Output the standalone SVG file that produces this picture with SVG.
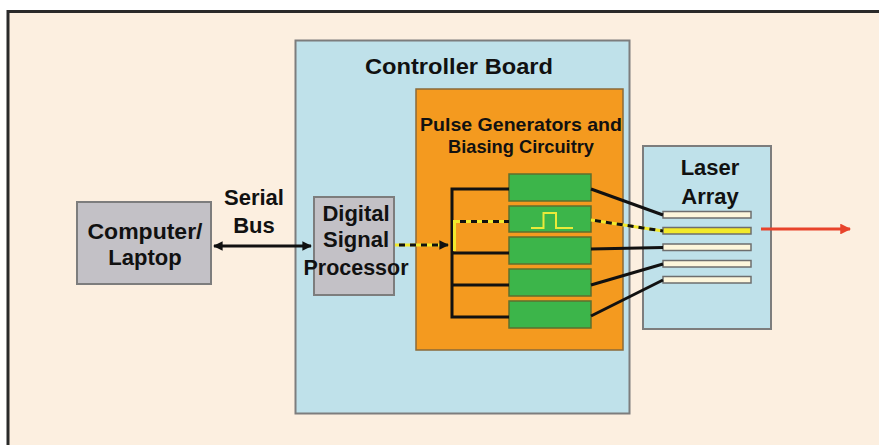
<svg xmlns="http://www.w3.org/2000/svg" width="879" height="445" viewBox="0 0 879 445">
  <defs>
    <style>
      .lbl { font-family: "Liberation Sans", Arial, sans-serif; font-weight: bold; fill: #111; text-anchor: middle; }
      .box { stroke: #7d7d7d; stroke-width: 2; }
      .gray { fill: #c3c1c6; }
      .blue { fill: #bfe1ea; }
      .gen { fill: #3cb54a; stroke: #5e6f2e; stroke-width: 1.5; }
      .stripe { fill: #fdf6dc; stroke: #6e6e6e; stroke-width: 1.5; }
      .wire { fill: none; stroke: #111; stroke-width: 3; }
      .sig { fill: none; stroke: #f2e92c; stroke-width: 3; }
      .sigdash { fill: none; stroke: #111; stroke-width: 3; stroke-dasharray: 6 5; }
    </style>
    <marker id="headBlack" viewBox="0 0 10 10" refX="9" refY="5" markerWidth="3.2" markerHeight="3.2" orient="auto-start-reverse" markerUnits="strokeWidth">
      <path d="M0,0 L10,5 L0,10 z" fill="#111"/>
    </marker>
    <marker id="headRed" viewBox="0 0 10 10" refX="9" refY="5" markerWidth="3.6" markerHeight="3.6" orient="auto" markerUnits="strokeWidth">
      <path d="M0,0 L10,5 L0,10 z" fill="#e8432b"/>
    </marker>
  </defs>

  <!-- page -->
  <rect x="0" y="0" width="879" height="445" fill="#ffffff"/>
  <rect x="8" y="11.5" width="900" height="460" fill="#fcefe0" stroke="#2a2a2a" stroke-width="3"/>

  <!-- controller board -->
  <g id="controller-board">
    <rect class="box blue" x="295.5" y="40.5" width="334" height="373"/>
    <text class="lbl" x="459" y="74" font-size="22" textLength="188" lengthAdjust="spacingAndGlyphs">Controller Board</text>
  </g>

  <!-- pulse generators block -->
  <g id="pulse-generators">
    <rect x="416" y="89" width="207" height="261" fill="#f49a1f" stroke="#8a6a3a" stroke-width="1.5"/>
    <text class="lbl" x="521" y="131" font-size="19" textLength="202" lengthAdjust="spacingAndGlyphs">Pulse Generators and</text>
    <text class="lbl" x="521" y="153" font-size="19" textLength="146" lengthAdjust="spacingAndGlyphs">Biasing Circuitry</text>
  </g>

  <!-- computer -->
  <g id="computer">
    <rect class="box gray" x="77" y="202" width="134" height="82"/>
    <text class="lbl" x="145" y="239" font-size="22" textLength="115" lengthAdjust="spacingAndGlyphs">Computer/</text>
    <text class="lbl" x="145" y="265" font-size="22">Laptop</text>
  </g>

  <!-- digital signal processor -->
  <g id="dsp">
    <rect class="box gray" x="314" y="197" width="80" height="98"/>
    <text class="lbl" x="356" y="221" font-size="22">Digital</text>
    <text class="lbl" x="356" y="247" font-size="22">Signal</text>
    <text class="lbl" x="356" y="275" font-size="22" textLength="105" lengthAdjust="spacingAndGlyphs">Processor</text>
  </g>

  <!-- serial bus label -->
  <g id="serial-bus-label">
    <text class="lbl" x="254" y="205" font-size="22">Serial</text>
    <text class="lbl" x="254" y="233" font-size="22">Bus</text>
  </g>

  <!-- generator channels -->
  <g id="generator-1"><rect class="gen" x="509" y="174" width="82" height="27"/></g>
  <g id="generator-2">
    <rect class="gen" x="509" y="206" width="82" height="26"/>
    <path d="M531,228 H543.5 V213 H556 V228 H573" fill="none" stroke="#e9ea3a" stroke-width="2"/>
  </g>
  <g id="generator-3"><rect class="gen" x="509" y="237" width="82" height="27"/></g>
  <g id="generator-4"><rect class="gen" x="509" y="269" width="82" height="27"/></g>
  <g id="generator-5"><rect class="gen" x="509" y="301" width="82" height="27"/></g>

  <!-- laser array -->
  <g id="laser-array">
    <rect class="box blue" x="643" y="146" width="128" height="183"/>
    <text class="lbl" x="710" y="175" font-size="22">Laser</text>
    <text class="lbl" x="710" y="204" font-size="22">Array</text>
    <rect class="stripe" x="663" y="211.5" width="88" height="6.5"/>
    <rect x="663" y="227.5" width="88" height="6.5" fill="#f2e92a" stroke="#6e6e6e" stroke-width="1.5"/>
    <rect class="stripe" x="663" y="244" width="88" height="6.5"/>
    <rect class="stripe" x="663" y="260.5" width="88" height="6.5"/>
    <rect class="stripe" x="663" y="276.5" width="88" height="6.5"/>
  </g>

  <!-- connectors -->
  <g id="connectors">
    <!-- serial bus -->
    <line class="wire" x1="214" y1="246" x2="311" y2="246" marker-start="url(#headBlack)" marker-end="url(#headBlack)"/>

    <!-- distribution bus inside generator block -->
    <path class="wire" d="M509,189 H452 V317 H509"/>
    <path class="wire" d="M452,253 H509"/>
    <path class="wire" d="M452,285 H509"/>

    <!-- active signal path: DSP to bus to generator 2 -->
    <line class="sig" x1="395" y1="245" x2="448" y2="245"/>
    <line class="sigdash" x1="399" y1="245" x2="448" y2="245" marker-end="url(#headBlack)"/>
    <path class="sig" d="M454.5,251 V221.5 H509" stroke-width="2.5"/>
    <line class="sigdash" x1="460" y1="221.5" x2="509" y2="221.5"/>

    <!-- generators to laser stripes -->
    <line class="wire" x1="591" y1="189" x2="663" y2="215"/>
    <line class="sig" x1="591" y1="220" x2="663" y2="231"/>
    <line class="sigdash" x1="595" y1="220.6" x2="663" y2="231"/>
    <line class="wire" x1="591" y1="249" x2="663" y2="247.5"/>
    <line class="wire" x1="591" y1="285" x2="663" y2="264"/>
    <line class="wire" x1="591" y1="316" x2="663" y2="280"/>

    <!-- laser output -->
    <line x1="761" y1="229" x2="850" y2="229" stroke="#e8432b" stroke-width="3" marker-end="url(#headRed)"/>
  </g>
</svg>
